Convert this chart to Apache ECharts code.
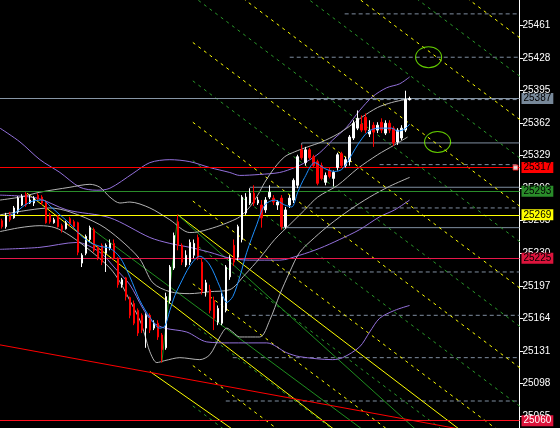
<!DOCTYPE html>
<html><head><meta charset="utf-8">
<script src="https://cdn.jsdelivr.net/npm/echarts@6/dist/echarts.min.js"></script>
<style>html,body{margin:0;padding:0;background:#000;}#c{width:560px;height:428px;}</style>
</head><body><div id="c"></div>
<script>
// candles: [open, close, low, high]
const candles = [
[25263,25257,25255,25265],[25257,25268,25255,25271],[25270,25264,25262,25272],[25266,25276,25265,25278],
[25272,25286,25270,25288],[25279,25288,25278,25290],[25290,25279,25277,25292],[25281,25284,25280,25289],
[25281,25286,25278,25288],[25289,25285,25283,25291],[25287,25281,25279,25289],[25282,25261,25260,25284],
[25269,25262,25260,25271],[25261,25264,25260,25266],[25267,25257,25256,25269],[25258,25254,25251,25260],
[25255,25261,25254,25263],[25265,25260,25258,25267],[25262,25257,25255,25264],[25261,25231,25228,25262],
[25220,25228,25216,25230],[25230,25247,25228,25249],[25244,25256,25241,25258],[25254,25233,25231,25256],
[25236,25226,25223,25238],[25238,25221,25218,25240],[25230,25238,25211,25240],[25235,25240,25233,25244],
[25240,25225,25223,25244],[25225,25198,25195,25226],[25198,25203,25195,25205],[25205,25186,25182,25206],
[25185,25167,25164,25186],[25179,25159,25157,25182],[25172,25149,25146,25174],[25167,25152,25149,25169],
[25154,25167,25134,25169],[25167,25152,25149,25169],[25154,25159,25152,25162],[25159,25145,25142,25162],
[25147,25132,25119,25149],[25134,25186,25132,25190],[25182,25216,25179,25218],[25215,25248,25213,25251],
[25262,25238,25233,25269],[25238,25221,25218,25240],[25218,25228,25216,25233],[25221,25241,25218,25244],
[25228,25240,25225,25244],[25246,25226,25223,25249],[25221,25191,25188,25225],[25191,25200,25186,25203],
[25193,25172,25169,25198],[25182,25164,25152,25186],[25160,25174,25157,25177],[25159,25186,25157,25190],
[25172,25216,25170,25218],[25206,25225,25203,25228],[25238,25221,25217,25244],[25226,25257,25223,25259],
[25244,25287,25241,25289],[25271,25287,25269,25291],[25281,25291,25279,25296],[25291,25281,25278,25299],
[25281,25284,25279,25287],[25279,25266,25256,25284],[25274,25284,25271,25287],[25287,25292,25285,25299],
[25286,25282,25279,25289],[25279,25282,25274,25284],[25286,25257,25254,25289],[25257,25274,25255,25277],
[25279,25286,25276,25289],[25284,25304,25281,25306],[25299,25328,25296,25330],[25335,25327,25325,25340],
[25322,25335,25319,25338],[25335,25327,25325,25337],[25328,25319,25317,25330],[25323,25301,25299,25325],
[25319,25306,25304,25322],[25302,25309,25299,25312],[25314,25308,25306,25317],[25306,25312,25298,25314],
[25317,25330,25314,25332],[25331,25319,25317,25333],[25319,25325,25317,25328],[25323,25348,25319,25350],
[25347,25362,25345,25365],[25357,25367,25355,25375],[25361,25355,25353,25370],[25368,25355,25352,25372],
[25351,25355,25348,25365],[25360,25353,25338,25363],[25355,25360,25352,25363],[25363,25355,25352,25367],
[25352,25362,25350,25365],[25362,25355,25352,25365],[25357,25342,25339,25359],[25343,25355,25340,25357],
[25347,25357,25345,25360],[25355,25386,25353,25395],[25386,25387,25385,25389]
];
const slotCount = 130;
const yTicks = [25065,25098,25131,25164,25197,25230,25263,25296,25329,25362,25395,25428,25461];
const yMin = 25052.6, yMax = 25487.1;

// indicator lines: [barIndex, price]
const maBlue = [[1.5,25268],[3.25,25271],[5.75,25279],[7.75,25283],[10.25,25284],[12,25278],[14.5,25269],[17,25260],[19.5,25249],[22,25241],[24.5,25237],[27,25235],[29.5,25226],[32,25206],[34.5,25182],[37,25165],[39.5,25154],[40.75,25156],[42,25172],[43.25,25187],[44.5,25198],[47,25217],[49.5,25227],[52,25218],[54.5,25196],[56.25,25180],[57.75,25186],[59.5,25206],[61.25,25231],[63.75,25259],[65.75,25279],[68.25,25284],[70.75,25279],[72.5,25277],[74,25292],[75.75,25307],[78.25,25322],[80.75,25316],[83.25,25313],[85,25315],[86.5,25323],[89,25340],[91.5,25353],[94,25357],[97.5,25357],[99,25354],[100.75,25356],[102,25361]];
const bbGreyUp = [[-0.5,25284],[4.5,25287],[9.5,25292],[17,25297],[22,25300],[24.5,25297],[27,25287],[29.5,25281],[32,25282],[37,25276],[42,25264],[47,25251],[49.5,25252],[53.75,25257],[57,25262],[59.5,25267],[62,25277],[64,25289],[65.75,25302],[68.25,25317],[70.75,25328],[73.25,25333],[76.5,25338],[80,25343],[84,25351],[87,25359],[90,25368],[94,25378],[97.5,25383],[100.75,25386],[102,25387]];
const bbGreyMid = [[-0.5,25269],[7,25274],[12,25276],[17,25272],[24.5,25259],[29.5,25244],[34.5,25224],[37.75,25200],[42,25191],[47,25189],[52,25191],[57,25193],[60.75,25208],[64.5,25225],[68.25,25244],[72,25259],[75.75,25274],[79,25287],[84,25299],[89,25316],[94,25330],[98.25,25340],[101.5,25348]];
const bbGreyLow = [[-0.5,25252],[4.5,25256],[9.5,25258],[13.25,25256],[17,25248],[22,25233],[27,25215],[29.5,25201],[32,25182],[34.5,25162],[35.75,25147],[37,25130],[38.75,25119],[40.75,25121],[44.5,25124],[49.5,25122],[52,25127],[54.5,25145],[56.25,25154],[57.75,25150],[59.5,25145],[64.5,25145],[67,25162],[69.5,25188],[72,25211],[74.5,25231],[78.25,25246],[82,25259],[87,25274],[92,25287],[97,25298],[102,25307]];
const bbPurpUp = [[-0.5,25357],[4.5,25343],[9.5,25325],[14.5,25312],[19.5,25297],[23.75,25294],[27,25296],[32.75,25311],[37,25322],[42,25325],[47,25323],[52,25317],[57,25312],[59.5,25309],[64.5,25310],[69.5,25312],[73.25,25317],[76.25,25323],[79.5,25332],[82.75,25345],[86.25,25358],[89.5,25375],[92.75,25389],[96.25,25398],[99.5,25402],[102,25409]];
const bbPurpMid = [[-0.5,25289],[8.75,25286],[16.25,25274],[27,25266],[37,25246],[42,25240],[47,25236],[52,25231],[57,25225],[62,25223],[69.5,25223],[74.5,25228],[79.5,25235],[84.5,25244],[89.5,25254],[94.5,25267],[98.25,25274],[102,25284]];
const bbPurpLow = [[-0.5,25234],[9.5,25236],[18.75,25241],[24.5,25231],[28.25,25215],[32,25198],[35.25,25174],[37.75,25160],[40.75,25154],[46.25,25150],[51.25,25140],[57,25139],[66.25,25139],[71.25,25129],[74.5,25125],[82.75,25122],[85.25,25124],[89.5,25135],[92,25150],[94.5,25164],[98.25,25172],[102,25177]];

// horizontal levels
const levelLines = [
  {price:25387, color:'#8796a6', box:'#778899', text:'#000000'},
  {price:25317, color:'#ff0000', box:'#ff0000', text:'#000000'},
  {price:25293, color:'#2a8c2a', box:'#2a8c2a', text:'#000000'},
  {price:25269, color:'#ffff00', box:'#ffff00', text:'#000000'},
  {price:25225, color:'#e8174a', box:'#dc143c', text:'#000000'},
  {price:25060, color:'#ff1020', box:'#dc143c', text:'#ffffff'}
];
// grey partial levels: [startBar, price]
const greySolid = [[75,25342],[62,25297],[70,25256]];
const greyDashed = [[85.75,25473],[72,25429],[77,25386],[94.5,25320],[75,25276],[67.5,25211],[60.75,25167],[57.75,25124],[56,25080]];
// short grey vertical edges: [bar, price1, bar, price2]
const greyEdges = [[75,25342,75,25335],[70,25277,70,25256]];

// trend / channel lines: [bar1, price1, bar2, price2]
const yellowSolid = [[6.25,25291,149.5,24844],[44,25269,149.5,24943],[37,25110,149.5,24791]];
const greenSolid = [[40,25119,44,25269],[44,25269,149.5,24883],[22,25256,149.5,24873]];
const redSolid = [[-0.5,25137,130,25040]];
const yellowDashed = [[47.75,25698,149.5,25388],[47.75,25615,149.5,25305],[47.75,25527,149.5,25217],[47.75,25444,149.5,25134],[47.75,25363,149.5,25053],[47.75,25283,149.5,24973],[47.75,25199,149.5,24890],[47.75,25116,149.5,24806]];
const greenDashed = [[47.75,25659,149.5,25349],[47.75,25576,149.5,25266],[47.75,25491,149.5,25181],[47.75,25405,149.5,25095],[47.75,25324,149.5,25014],[47.75,25241,149.5,24931],[47.75,25158,149.5,24848],[47.75,25075,149.5,24765]];
const ellipses = [[106.75,25429],[109,25343]];
const alertMark = [[128.5,25317]];

const chart = echarts.init(document.getElementById('c'), null, {renderer:'canvas'});
const cats = Array.from({length: slotCount}, (_, i) => String(i));
const series = [];
function seg(list, color, dashed, z){
  list.forEach(s => series.push({type:'line', xAxisIndex:1, yAxisIndex:0, data:[[s[0],s[1]],[s[2],s[3]]], symbol:'none', silent:true, z:z,
    lineStyle:{color:color, width:1, type: dashed ? [3,4] : 'solid'}, clip:true}));
}
function hline(list, dashed){
  list.forEach(s => series.push({type:'line', xAxisIndex:1, yAxisIndex:0, data:[[s[0],s[1]],[129.5,s[1]]], symbol:'none', silent:true, z:1,
    lineStyle:{color:'#7f8ea0', width:1, type: dashed ? [4,3] : 'solid'}}));
}
hline(greyDashed, true);
hline(greySolid, false);
seg(greyEdges, '#7f8ea0', false, 1);
seg(yellowDashed, '#ffff00', true, 2);
seg(greenDashed, '#2a9a2a', true, 2);
seg(yellowSolid, '#ffff00', false, 3);
seg(greenSolid, '#1f8f1f', false, 3);
seg(redSolid, '#ff0000', false, 3);
function band(d, color){
  series.push({type:'line', xAxisIndex:1, yAxisIndex:0, data:d, symbol:'none', silent:true, z:4, smooth:0.3, lineStyle:{color:color, width:1}});
}
band(bbPurpUp, '#9370db'); band(bbPurpMid, '#9370db'); band(bbPurpLow, '#9370db');
band(bbGreyUp, '#b4b4b4'); band(bbGreyMid, '#b4b4b4'); band(bbGreyLow, '#b4b4b4');
series.push({type:'candlestick', xAxisIndex:0, yAxisIndex:0, data:candles, barWidth:2, z:5, silent:true,
  itemStyle:{color:'#ffffff', color0:'#ff0000', borderColor:'#ffffff', borderColor0:'#ff0000', borderWidth:1},
  markLine:{silent:true, symbol:'none', animation:false,
    data: levelLines.map(l => ({yAxis:l.price, lineStyle:{color:l.color, width:1, type:'solid'},
      label:{show:true, position:'end', distance:2, formatter:String(l.price), color:l.text, backgroundColor:l.box,
        fontFamily:'Liberation Sans', fontSize:10, padding:[1,2,0,2], lineHeight:10}}))
  }});
band(maBlue, '#1e90ff');
series[series.length-1].z = 6;
series.push({type:'scatter', xAxisIndex:1, yAxisIndex:0, data:ellipses, symbol:'circle', symbolSize:[26,21], z:7, silent:true,
  itemStyle:{color:'rgba(0,0,0,0)', borderColor:'#7cfc00', borderWidth:1}});
series.push({type:'scatter', xAxisIndex:1, yAxisIndex:0, data:alertMark, symbol:'rect', symbolSize:5, z:8, silent:true,
  itemStyle:{color:'#ffffff', borderColor:'#ff0000', borderWidth:1}});

chart.setOption({
  animation:false,
  backgroundColor:'#000000',
  grid:{left:-0.5, top:0, right:40.5, bottom:0},
  xAxis:[
    {type:'category', data:cats, boundaryGap:true, show:false},
    {type:'value', min:-0.5, max:slotCount-0.5, show:false}
  ],
  yAxis:[{type:'value', position:'right', min:yMin, max:yMax, scale:true,
    axisLine:{show:true, onZero:false, lineStyle:{color:'#ffffff', width:1}},
    axisTick:{show:true, inside:false, length:4, lineStyle:{color:'#ffffff'}, customValues:yTicks},
    axisLabel:{show:true, color:'#ffffff', fontFamily:'Liberation Sans', fontSize:10, margin:3, customValues:yTicks, formatter:v=>String(v)},
    splitLine:{show:false}
  }],
  series: series
});
</script></body></html>
